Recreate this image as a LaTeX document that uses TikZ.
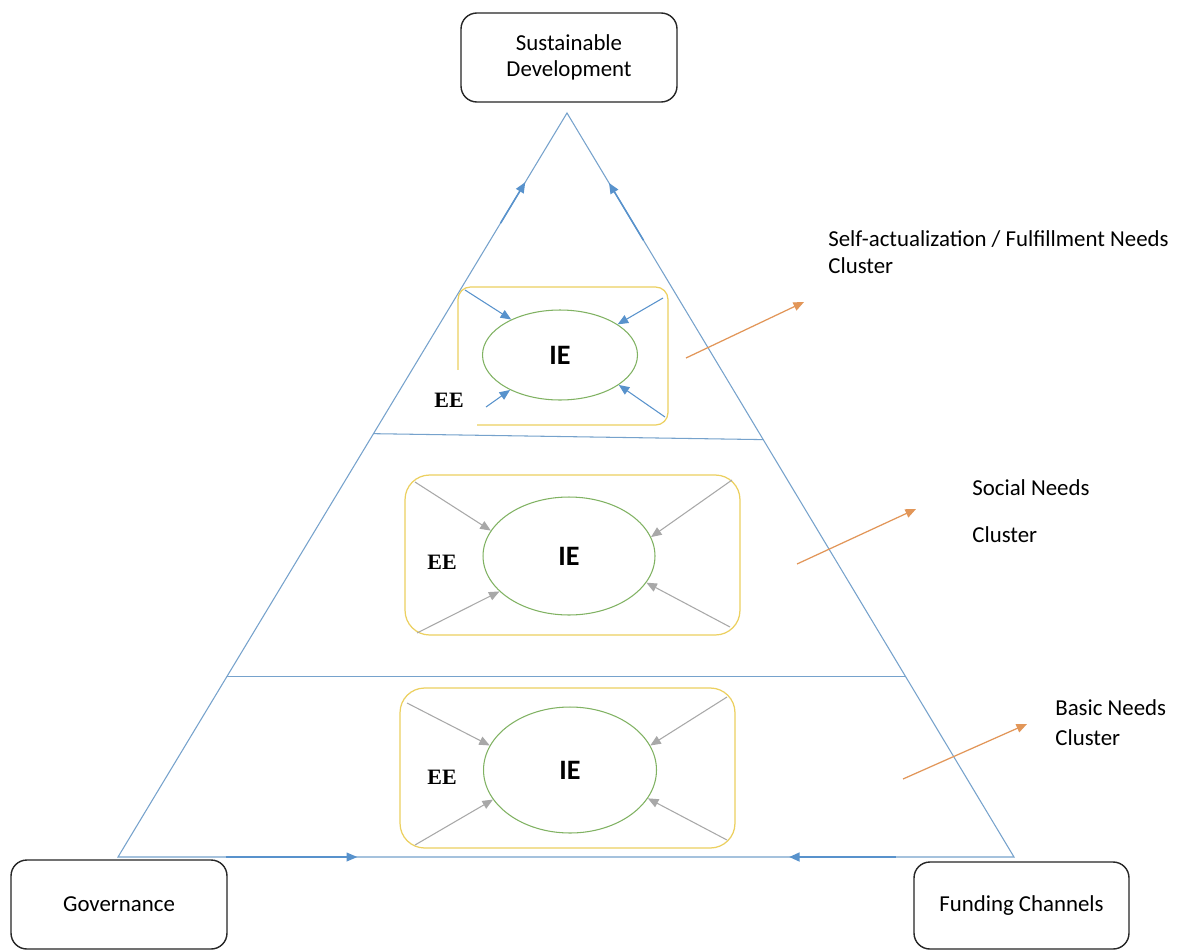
\documentclass[tikz,border=0pt]{standalone}
\usepackage{fontspec}
\setmainfont{Carlito}
\newfontfamily\eefont{Liberation Serif}
\usetikzlibrary{arrows.meta,calc,shapes.geometric}

\definecolor{sideblue}{RGB}{118,162,204}
\definecolor{tipblue}{RGB}{88,146,204}
\definecolor{ringgreen}{RGB}{128,178,98}
\definecolor{clustergold}{RGB}{236,208,96}
\definecolor{spokegrey}{RGB}{168,168,168}
\definecolor{pointorange}{RGB}{226,150,88}

\begin{document}
\begin{tikzpicture}[x=0.02cm, y=-0.02cm,
  endbox/.style={draw=black!85, line width=0.8pt, rounded corners=9pt, align=center, font=\fontsize{13}{15}\selectfont},
  clusterbox/.style={draw=clustergold, line width=0.7pt, rounded corners=#1},
  clusterbox/.default=14pt,
  ring/.style={ellipse, draw=ringgreen, line width=0.6pt, inner sep=0pt, font=\fontsize{16}{18}\selectfont\bfseries},
  eelabel/.style={inner sep=0pt, font=\eefont\fontsize{12.5}{13}\selectfont\bfseries},
  spoke/.style={line width=0.6pt, -{Triangle[length=6pt,width=5pt]}},
  side/.style={draw=sideblue, line width=0.6pt},
  climb/.style={draw=tipblue, line width=0.9pt, -{Triangle[length=6pt,width=5pt]}},
  pointer/.style={draw=pointorange, line width=0.7pt, -{Triangle[length=6pt,width=5pt]}},
  clusterlabel/.style={anchor=west, align=left, inner sep=0pt, font=\fontsize{13}{15.3}\selectfont}]

\path[fill=white, use as bounding box] (0,0) rectangle (1196,950);

% pyramid
\coordinate (apex) at (567,113);
\coordinate (govcorner) at (118,857);
\coordinate (fundcorner) at (1014,857);
\draw[side] (apex) -- (govcorner) -- (fundcorner) -- cycle;
\draw[side] ($(apex)!0.431!(govcorner)$) -- ($(apex)!0.439!(fundcorner)$);
\draw[side] ($(apex)!0.758!(govcorner)$) -- ($(apex)!0.758!(fundcorner)$);

\draw[climb] ($(apex)!0.148!(govcorner)$) -- ($(apex)!0.093!(govcorner)$);
\draw[climb] ($(apex)!0.171!(fundcorner)$) -- ($(apex)!0.094!(fundcorner)$);
\draw[climb, line width=0.6pt] ($(govcorner)!0.12!(fundcorner)$) -- ($(govcorner)!0.267!(fundcorner)$);
\draw[climb, line width=1.3pt] ($(fundcorner)!0.132!(govcorner)$) -- ($(fundcorner)!0.251!(govcorner)$);

% end boxes
\node[endbox, minimum width=4.32cm, minimum height=1.78cm] (sustain) at (569,57.5) {Sustainable\\Development};
\node[endbox, minimum width=4.32cm, minimum height=1.78cm] (gov) at (119,904.5) {Governance};
\node[endbox, minimum width=4.3cm, minimum height=1.74cm] (fund) at (1021.5,905.5) {Funding Channels};

% clusters
\node[clusterbox=7pt, minimum width=4.2cm, minimum height=2.76cm] (topcluster) at (563,356) {};
\node[clusterbox, minimum width=6.7cm, minimum height=3.2cm] (midcluster) at (572.5,555) {};
\node[clusterbox, minimum width=6.7cm, minimum height=3.2cm] (lowcluster) at (567.5,768) {};

\node[ring, minimum width=3.1cm, minimum height=1.8cm] (topie) at (560,355) {IE};
\node[ring, minimum width=3.44cm, minimum height=2.36cm] (midie) at (569,556) {IE};
\node[ring, minimum width=3.46cm, minimum height=2.52cm] (lowie) at (570,770) {IE};

\node[eelabel, fill=white, minimum width=1.1cm, minimum height=1.2cm] (topee) at (449,400) {EE};
\node[eelabel] (midee) at (442,562) {EE};
\node[eelabel] (lowee) at (442,777) {EE};

\foreach \ring/\ang/\px/\py in {topie/144/465/290, topie/28/663/298, topie/215/486/407, topie/333/665/417}{
  \coordinate (\ring-\ang) at (\px,\py);
  \draw[spoke, tipblue] (\ring-\ang) -- (\ring.\ang);
}
\foreach \ring/\ang/\px/\py in {midie/162/415/482, midie/13/732/480, midie/207/417/633, midie/341/730/627,
                               lowie/163/407/703, lowie/17/727/697, lowie/201/415/845, lowie/340/727/840}{
  \coordinate (\ring-\ang) at (\px,\py);
  \draw[spoke, spokegrey] (\ring-\ang) -- (\ring.\ang);
}

% needs pointers
\coordinate (toptail) at (686,358);
\coordinate (tophead) at (804,302);
\coordinate (midtail) at (797,564);
\coordinate (midhead) at (916,509);
\coordinate (lowtail) at (903,779);
\coordinate (lowhead) at (1027,724);
\draw[pointer] (toptail) -- (tophead);
\draw[pointer] (midtail) -- (midhead);
\draw[pointer] (lowtail) -- (lowhead);

\node[clusterlabel] (toplabel) at (828,252) {Self-actualization / Fulfillment Needs\\Cluster};
\node[clusterlabel] (midlabel) at (972,511) {Social Needs\\[11.3pt]Cluster};
\node[clusterlabel] (lowlabel) at (1055,723) {Basic Needs\\[1.7pt]Cluster};
\end{tikzpicture}
\end{document}
